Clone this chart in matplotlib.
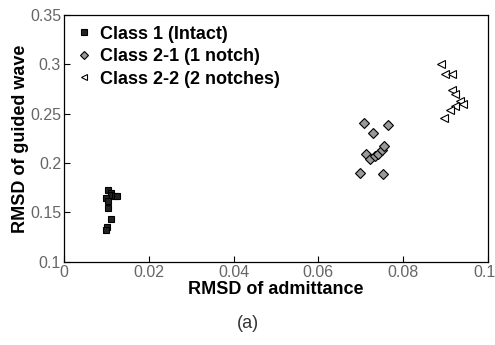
import matplotlib
matplotlib.use('Agg')
import matplotlib.pyplot as plt
import matplotlib.transforms as mtransforms

plt.rcParams['font.family'] = ['Liberation Sans', 'DejaVu Sans']

# class 1 (intact)
c1_x = [0.0105, 0.0110, 0.0112, 0.0120, 0.0125, 0.0100, 0.0103, 0.0105, 0.0112, 0.0102, 0.0100]
c1_y = [0.173, 0.170, 0.168, 0.167, 0.167, 0.165, 0.162, 0.154, 0.143, 0.135, 0.132]

# class 2-1 (1 notch)
c21_x = [0.0708, 0.0764, 0.0729, 0.0712, 0.0722, 0.0733, 0.0741, 0.0750, 0.0755, 0.0698, 0.0752]
c21_y = [0.241, 0.239, 0.230, 0.209, 0.204, 0.207, 0.209, 0.213, 0.217, 0.190, 0.189]

# class 2-2 (2 notches)
c22_x = [0.0889, 0.0899, 0.0915, 0.0915, 0.0922, 0.0934, 0.0922, 0.0941, 0.0910, 0.0896]
c22_y = [0.300, 0.290, 0.290, 0.274, 0.270, 0.263, 0.258, 0.260, 0.254, 0.246]

labels = ['Class 1 (Intact)', 'Class 2-1 (1 notch)', 'Class 2-2 (2 notches)']

fig = plt.figure(figsize=(4.95, 3.45), dpi=100)
ax = fig.add_axes([0.129, 0.241, 0.857, 0.716])

ax.plot(c1_x, c1_y, 's', ms=5, mfc='#222222', mec='black', mew=0.8, label=labels[0])
ax.plot(c21_x, c21_y, 'D', ms=5, mfc='#999999', mec='black', mew=0.8, label=labels[1])
ax.plot(c22_x, c22_y, '<', ms=5.5, mfc='white', mec='black', mew=0.8, label=labels[2])

ax.set_xlim(0, 0.1)
ax.set_ylim(0.1, 0.35)
ax.set_xticks([0, 0.02, 0.04, 0.06, 0.08, 0.1])
ax.set_xticklabels(['0', '0.02', '0.04', '0.06', '0.08', '0.1'])
ax.set_yticks([0.1, 0.15, 0.2, 0.25, 0.3, 0.35])
ax.set_yticklabels(['0.1', '0.15', '0.2', '0.25', '0.3', '0.35'])
ax.tick_params(direction='in', length=4, labelsize=11.5, labelcolor='#666666', width=0.8, pad=2)
for s in ax.spines.values():
    s.set_linewidth(0.9)

# nudge the last x tick label so it stays inside the figure
last = ax.get_xticklabels()[-1]
last.set_transform(last.get_transform() + mtransforms.ScaledTranslation(-4/100, 0, fig.dpi_scale_trans))

ax.set_xlabel('RMSD of admittance', fontsize=13, fontweight='bold', labelpad=1)
ax.set_ylabel('RMSD of guided wave', fontsize=13, fontweight='bold', labelpad=1)

ax.legend(loc='upper left', frameon=False, prop={'weight': 'bold', 'size': 13},
          handletextpad=0.4, handlelength=1.0, labelspacing=0.3,
          borderaxespad=0.3, borderpad=0.3, markerscale=0.8)

fig.text(0.5, 0.063, '(a)', ha='center', va='center', fontsize=13, color='#333333')

fig.savefig('out.png', dpi=100)
